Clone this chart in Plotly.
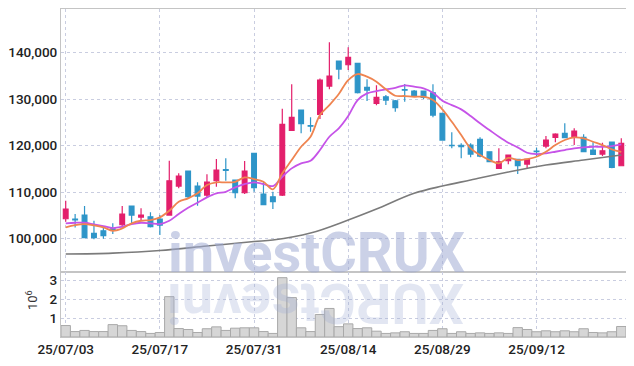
import plotly.graph_objects as go

dates = ["25/07/03", "25/07/04", "25/07/07", "25/07/08", "25/07/09", "25/07/10", "25/07/11",
         "25/07/14", "25/07/15", "25/07/16", "25/07/17", "25/07/18",
         "25/07/21", "25/07/22", "25/07/23", "25/07/24", "25/07/25",
         "25/07/28", "25/07/29", "25/07/30", "25/07/31", "25/08/01",
         "25/08/04", "25/08/05", "25/08/06", "25/08/07", "25/08/08",
         "25/08/11", "25/08/12", "25/08/13", "25/08/14",
         "25/08/18", "25/08/19", "25/08/20", "25/08/21", "25/08/22",
         "25/08/25", "25/08/26", "25/08/27", "25/08/28", "25/08/29",
         "25/09/01", "25/09/02", "25/09/03", "25/09/04", "25/09/05",
         "25/09/08", "25/09/09", "25/09/10", "25/09/11", "25/09/12",
         "25/09/15", "25/09/16", "25/09/17", "25/09/18", "25/09/19",
         "25/09/22", "25/09/23", "25/09/24", "25/09/25"]

open_ = [104260, 104200, 105050, 101120, 101680, 102100, 102970, 106990, 104620, 104690,
         104190, 105050, 111290, 114510, 111290, 109350, 112430, 114800, 112580, 109850,
         118320, 109570, 108990, 109350, 123270, 127630, 124300, 126700, 132790, 138160,
         137370, 137670, 132500, 129070, 130490, 129630, 132000, 131710, 131710, 131350,
         126920, 120050, 120050, 120100, 121330, 118660, 115090, 116730, 117030, 116020,
         118800, 119890, 121760, 122620, 121890, 121760, 119030, 118170, 120750, 115650]
high = [108130, 105270, 106990, 103830, 102690, 103270, 106990, 107000, 106490, 105630,
        105050, 116730, 114020, 114510, 112080, 113800, 117090, 117240, 112700, 116660,
        118320, 112210, 110060, 127900, 133150, 127630, 126060, 134400, 142180, 138200,
        141110, 137700, 134230, 132940, 130850, 129800, 133220, 131930, 131800, 133150,
        127000, 122830, 120470, 120470, 121760, 118700, 119390, 118000, 117100, 117100,
        119520, 122040, 122620, 124770, 123690, 122400, 120680, 120600, 120800, 121540]
low = [103610, 102400, 100100, 99830, 99960, 100970, 102400, 103270, 103980, 102400,
       100750, 104900, 110790, 108640, 107050, 108860, 111140, 112430, 108640, 109600,
       110060, 107200, 106340, 109140, 123110, 122620, 122960, 125700, 132080, 134230,
       136230, 131200, 129560, 128640, 128700, 127260, 129410, 130500, 130000, 126060,
       121100, 119390, 117240, 117460, 117460, 116400, 115000, 115950, 113870, 115090,
       117590, 119390, 120680, 121600, 120100, 118600, 118000, 117740, 115090, 115600]
close = [106340, 104000, 100170, 100170, 100600, 101900, 105270, 105050, 105050, 102540,
         102900, 112430, 113440, 108990, 109140, 112150, 114730, 114650, 109850, 114510,
         110920, 107270, 107910, 124550, 126060, 124680, 124150, 134080, 134940, 136440,
         138960, 131350, 131930, 130360, 129780, 128120, 131900, 130640, 130360, 126550,
         121180, 119950, 119740, 118170, 117740, 116510, 116510, 117950, 115650, 117030,
         118700, 121180, 122470, 121670, 123110, 118660, 118100, 118880, 115310, 120470]

volume_m = [0.61, 0.29, 0.35, 0.29, 0.29, 0.66, 0.60, 0.35, 0.29, 0.19,
            0.24, 2.15, 0.45, 0.40, 0.24, 0.44, 0.54, 0.35, 0.47, 0.49,
            0.49, 0.29, 0.19, 3.16, 2.10, 0.49, 0.29, 1.20, 1.52, 0.55,
            0.70, 0.45, 0.49, 0.31, 0.19, 0.22, 0.28, 0.19, 0.19, 0.35,
            0.44, 0.19, 0.28, 0.19, 0.22, 0.19, 0.22, 0.19, 0.50, 0.40,
            0.28, 0.33, 0.28, 0.33, 0.28, 0.44, 0.24, 0.22, 0.28, 0.56]

ma5 = [102400, 102900, 103120, 102840, 102400, 101680, 102190, 103270, 103830, 103980,
       104560, 105980, 107910, 108640, 109720, 111500, 112080, 112080, 112210, 113160,
       112790, 112210, 110580, 114020, 116880, 119740, 121890, 126550, 128700, 131070,
       134080, 135370, 134800, 133720, 132080, 130700, 130640, 130490, 130490, 129780,
       127770, 125110, 122250, 119390, 117950, 116880, 116170, 117350, 116880, 117090,
       117590, 118660, 120100, 121180, 121760, 121540, 120810, 120100, 119180, 118660]
ma10 = [103270, 103400, 103400, 103050, 102690, 102260, 102540, 103120, 103400, 103270,
        103120, 103830, 105270, 106620, 107700, 108860, 109720, 110060, 111010, 111720,
        112080, 111720, 111290, 113290, 115090, 116170, 116730, 119030, 121890, 123690,
        126340, 129780, 131220, 131710, 132080, 132400, 132940, 132640, 132300, 131350,
        129630, 128700, 127770, 126340, 124770, 123330, 121890, 120600, 119610, 118450,
        118170, 118320, 118660, 119030, 119390, 119610, 119740, 119740, 119890, 120250]
ma_long_dates = ["25/07/03", "25/07/10", "25/07/17", "25/07/24", "25/07/31", "25/08/04",
                 "25/08/08", "25/08/14", "25/08/20", "25/08/26", "25/08/29", "25/09/03",
                 "25/09/09", "25/09/15", "25/09/19", "25/09/25"]
ma_long = [96670, 96880, 97420, 98390, 99360, 99680, 101180, 103980, 106340, 109720,
           111290, 112580, 114300, 115800, 116880, 117950]

tick_dates = ["25/07/03", "25/07/17", "25/07/31", "25/08/14", "25/08/29", "25/09/12"]
price_ticks = [100000, 110000, 120000, 130000, 140000]
vol_ticks = [1, 2, 3]

INC = "#e31f6b"
DEC = "#2e95c8"
GRID = "#c9cde0"
LINE = "#c4c4c4"
FONT = "Roboto, Liberation Sans, sans-serif"
TICKFONT = dict(family=FONT, size=13.5, color="#222222", weight=500)

fig = go.Figure()
fig.add_trace(go.Bar(x=dates, y=volume_m, xaxis="x2", yaxis="y2",
                     marker=dict(color="#d6d6d6", line=dict(color="#a9a9a9", width=1)),
                     width=1.0, showlegend=False))
fig.add_trace(go.Candlestick(x=dates, open=open_, high=high, low=low, close=close,
                             increasing=dict(line=dict(color=INC, width=1.2), fillcolor=INC),
                             decreasing=dict(line=dict(color=DEC, width=1.2), fillcolor=DEC),
                             whiskerwidth=0, showlegend=False))
fig.add_trace(go.Scatter(x=ma_long_dates, y=ma_long, mode="lines",
                         line=dict(color="#7b7b7b", width=1.6, shape="spline"), showlegend=False))
fig.add_trace(go.Scatter(x=dates, y=ma10, mode="lines",
                         line=dict(color="#c653e8", width=1.8, shape="spline"), showlegend=False))
fig.add_trace(go.Scatter(x=dates, y=ma5, mode="lines",
                         line=dict(color="#ef8450", width=1.8, shape="spline"), showlegend=False))

axis_common = dict(showline=True, linecolor=LINE, linewidth=1, mirror=True,
                   gridcolor=GRID, griddash="dot", gridwidth=1, zeroline=False,
                   automargin=False, ticks="", tickfont=TICKFONT)

# the page body adds an 8px offset, so the figure is sized 8px smaller
fig.update_layout(
    width=626, height=358,
    margin=dict(l=53, r=8, t=1, b=29),
    paper_bgcolor="white", plot_bgcolor="white",
    boxgap=0.28,
    xaxis=dict(type="category", categoryorder="array", categoryarray=dates,
               range=[-0.5, 59.5], anchor="y", matches="x2", showticklabels=False,
               rangeslider=dict(visible=False),
               tickvals=tick_dates, **axis_common),
    xaxis2=dict(type="category", categoryorder="array", categoryarray=dates,
                range=[-0.5, 59.5], anchor="y2",
                tickvals=tick_dates, ticktext=tick_dates, **axis_common),
    yaxis=dict(domain=[0.198, 1.0], range=[92800, 149350],
               tickvals=price_ticks, tickformat=",d", **axis_common),
    yaxis2=dict(domain=[0.0, 0.198], range=[0, 3.46], tickvals=vol_ticks,
                **axis_common),
    showlegend=False,
)

# volume unit label
fig.add_annotation(text="10<sup>6</sup>", xref="paper", yref="paper",
                   x=(32 - 61) / 565, y=(337 - 300) / 328, xanchor="center", yanchor="middle",
                   textangle=-90, showarrow=False,
                   font=dict(family=FONT, size=13, color="#333333"))

# watermark and its reflection
fig.add_annotation(text="<b>investCRUX</b>", xref="paper", yref="paper",
                   x=(316 - 61) / 565, y=(337 - 253) / 328, xanchor="center", yanchor="middle",
                   showarrow=False,
                   font=dict(family=FONT, size=56, color="rgba(160,172,212,0.55)"))
fig.add_annotation(text="<b>XURCtsevni</b>", xref="paper", yref="paper",
                   x=(316 - 61) / 565, y=(337 - 303) / 328, xanchor="center", yanchor="middle",
                   textangle=180, showarrow=False,
                   font=dict(family=FONT, size=56, color="rgba(160,172,212,0.3)"))

fig.write_html("out.html")
